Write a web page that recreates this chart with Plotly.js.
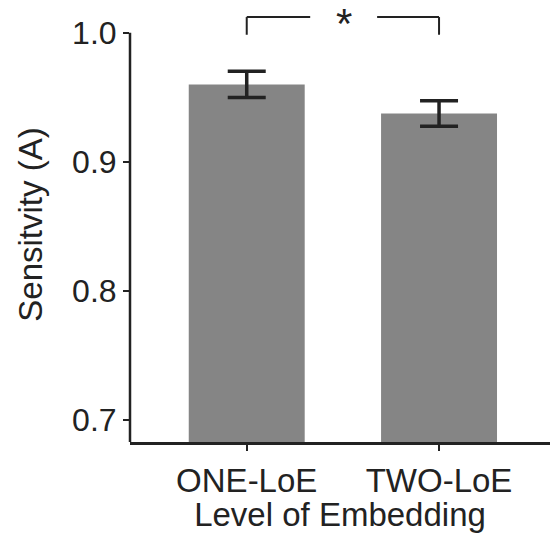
<!DOCTYPE html>
<html>
<head>
<meta charset="utf-8">
<script src="https://cdn.plot.ly/plotly-3.0.1.min.js"></script>
<style>html,body{margin:0;padding:0;background:#fff;}#chart{width:550px;height:533px;}</style>
</head>
<body>
<div id="chart"></div>
<script>
const categories = ["ONE-LoE", "TWO-LoE"];
const sensitivity = [0.960, 0.9375];
const errors = [0.0102, 0.0098];
const yTicks = [0.7, 0.8, 0.9, 1.0];
const yTickLabels = ["0.7", "0.8", "0.9", "1.0"];
const sigLabel = "*";

const yMin = 0.683, yAxisTop = 1.0, yMax = 1.02;
const bracketTop = 1.0122, bracketBottom = 0.9985;
const font = "Liberation Sans, Arial, Helvetica, sans-serif";
const ink = "#222222";

const trace = {
  type: "bar",
  x: categories,
  y: sensitivity,
  width: 0.603,
  marker: {color: "#858585", line: {width: 0}},
  error_y: {type: "data", array: errors, visible: true, color: ink, thickness: 3.5, width: 19},
  hoverinfo: "skip"
};

const shapes = [
  // y axis line (stops at 1.0)
  {type: "line", xref: "paper", yref: "y", x0: 0, x1: 0, y0: yMin, y1: yAxisTop, line: {color: ink, width: 2.5}},
  // significance bracket
  {type: "line", xref: "x", yref: "y", x0: 0, x1: 0, y0: bracketBottom, y1: bracketTop, line: {color: ink, width: 2}},
  {type: "line", xref: "x", yref: "y", x0: 0, x1: 0.33, y0: bracketTop, y1: bracketTop, line: {color: ink, width: 2}},
  {type: "line", xref: "x", yref: "y", x0: 0.678, x1: 1, y0: bracketTop, y1: bracketTop, line: {color: ink, width: 2}},
  {type: "line", xref: "x", yref: "y", x0: 1, x1: 1, y0: bracketBottom, y1: bracketTop, line: {color: ink, width: 2}}
];

const layout = {
  width: 550, height: 533,
  margin: {l: 130, r: 0, t: 7, b: 91},
  paper_bgcolor: "#ffffff", plot_bgcolor: "#ffffff",
  showlegend: false,
  font: {family: font, color: ink, size: 33},
  xaxis: {
    type: "category",
    range: [-0.607, 1.577],
    showgrid: false, zeroline: false,
    showline: true, linecolor: ink, linewidth: 2.5,
    ticks: "outside", ticklen: 6, tickwidth: 2, tickcolor: ink,
    ticklabelstandoff: 2,
    tickfont: {family: font, size: 33, color: ink},
    title: {text: "Level of Embedding", font: {family: font, size: 33, color: ink}, standoff: 6}
  },
  yaxis: {
    range: [yMin, yMax],
    tickvals: yTicks, ticktext: yTickLabels,
    showgrid: false, zeroline: false, showline: false,
    ticks: "outside", ticklen: 6, tickwidth: 2, tickcolor: ink,
    tickfont: {family: font, size: 32, color: ink},
    title: {text: "Sensitvity (A)", font: {family: font, size: 33, color: ink}, standoff: 19}
  },
  shapes: shapes,
  annotations: [
    {xref: "x", yref: "y", x: 0.506, y: bracketTop, text: sigLabel, showarrow: false,
     font: {family: font, size: 42, color: ink}, yanchor: "middle", yshift: -6}
  ]
};

Plotly.newPlot("chart", [trace], layout, {displayModeBar: false, staticPlot: true});
</script>
</body>
</html>
